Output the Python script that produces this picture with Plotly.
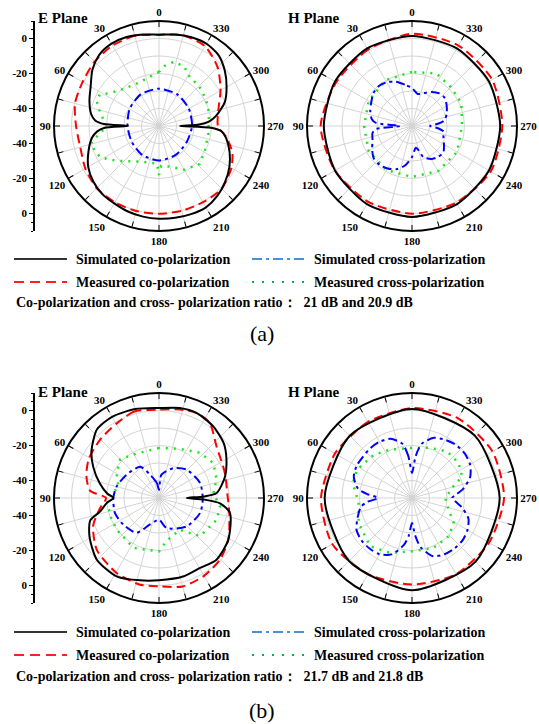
import plotly.graph_objects as go

W, H = 539, 724

# ---------------- data (dB vs angle in degrees) ----------------
# (a) E plane
ea_sim_co_th = [0, 10, 20, 30, 40, 50, 60, 70, 80, 85, 88, 90, 92, 95, 100, 110, 120, 130, 140, 150, 160, 170, 180,
                190, 200, 210, 220, 230, 240, 250, 260, 265, 268, 270, 272, 275, 280, 290, 300, 310, 320, 330, 340, 350]
ea_sim_co_db = [2.2, 3.1, 4.1, 4.3, 3.1, -0.3, -4.9, -7.7, -10.6, -13.4, -18.6, -32.3, -18.6, -14.6, -11.1, -7.1, -3.3,
                -0.9, 0.6, 1.1, 2.0, 2.6, 3.0, 3.3, 3.6, 3.7, 2.0, -0.6, -3.5, -7.1, -11.1, -14.0, -20.3, -38.0, -27.1,
                -21.4, -16.9, -10.0, -5.4, -0.9, 2.9, 4.3, 4.0, 3.1]
ea_meas_co_th = [0, 15, 30, 45, 60, 75, 90, 105, 120, 135, 150, 165, 180, 195, 210, 225, 240, 250, 260, 270, 285, 300,
                 315, 330, 345]
ea_meas_co_db = [2.2, 3.3, 3.1, 2.0, 0.4, -0.3, -2.6, -3.4, -1.4, 0.3, 0.4, 0.3, 0.1, 0.2, 0.3, 0.7, -2.2, -5.4, -10.6,
                 -16.3, -14.9, -9.4, -2.6, 2.6, 3.6]
ea_sim_x_th = [0, 30, 60, 90, 120, 150, 180, 210, 240, 270, 300, 330]
ea_sim_x_db = [-28.7, -29.1, -30.6, -32.0, -32.0, -30.9, -30.3, -30.9, -31.7, -31.1, -30.3, -29.1]
ea_meas_x_th = [0, 15, 30, 45, 55, 62, 68, 78, 90, 102, 105, 118, 130, 150, 165, 177, 180, 183, 195, 210, 227, 242,
                260, 285, 300, 315, 328, 337, 347, 355]
ea_meas_x_db = [-19.1, -22.0, -22.6, -20.3, -16.9, -11.7, -11.5, -15.7, -20.3, -11.7, -9.4, -11.9, -18.9, -26.6, -28.3,
                -28.5, -22.0, -27.1, -26.0, -21.1, -18.2, -20.3, -21.4, -20.4, -19.1, -17.7, -16.9, -13.1, -12.3, -15.7]

# (a) H plane
ha_sim_co_th = [0, 30, 60, 90, 120, 150, 180, 210, 240, 270, 300, 330]
ha_sim_co_db = [1.5, 1.2, 0.8, 0.4, 0.8, 1.5, 2.0, 1.5, 0.8, 0.4, 0.8, 1.2]
ha_meas_co_th = [0, 30, 60, 90, 120, 150, 180, 210, 240, 270, 300, 330]
ha_meas_co_db = [2.7, 0.3, 0.0, 2.2, 0.9, 0.0, 0.1, 0.6, 2.0, 1.6, 2.9, 3.1]
ha_sim_x_th = [0, 10, 20, 30, 40, 50, 60, 70, 80, 85, 90, 95, 100, 110, 120, 130, 140, 150, 160, 170, 180, 190, 195,
               200, 210, 220, 230, 240, 250, 260, 265, 270, 275, 280, 290, 300, 310, 320, 330, 340, 350]
ha_sim_x_db = [-28.3, -26.0, -23.1, -21.1, -20.3, -21.1, -23.1, -24.6, -26.6, -29.4, -43.1, -29.4, -27.1, -26.0, -23.7,
               -21.4, -21.1, -22.0, -23.7, -27.1, -32.3, -37.4, -35.7, -31.1, -28.3, -26.9, -26.6, -28.9, -30.9,
               -31.7, -35.1, -39.7, -35.1, -31.1, -28.9, -27.1, -25.4, -25.7, -27.5, -30.0, -31.4]
ha_meas_x_th = [0, 30, 60, 90, 120, 150, 180, 210, 240, 270, 295, 315, 335]
ha_meas_x_db = [-19.1, -19.7, -21.4, -22.6, -21.4, -20.9, -20.9, -20.3, -20.3, -21.4, -18.9, -18.6, -16.9]

# (b) E plane
eb_sim_co_th = [0, 15, 30, 42, 55, 65, 76, 85, 90, 95, 103, 108, 119, 135, 152, 167, 180, 197, 210, 223, 239, 258, 265,
                268, 270, 272, 275, 288, 300, 310, 323, 336, 347]
eb_sim_co_db = [1.4, 2.6, 3.6, 2.9, -2.9, -8.6, -15.1, -20.3, -23.9, -20.3, -15.4, -8.7, -4.6, 0.1, 0.9, -1.7, -3.0,
                -3.1, -3.7, -1.8, -3.8, -8.5, -15.0, -24.3, -34.2, -24.3, -16.9, -10.3, -5.5, -1.6, 1.4, 3.1, 2.8]
eb_meas_co_th = [0, 16, 29, 45, 61, 73, 84, 90, 100, 113, 130, 150, 167, 180, 195, 210, 225, 239, 258, 274, 291, 312,
                 326, 336, 347]
eb_meas_co_db = [0.5, 1.4, -0.9, -2.6, -4.1, -6.6, -10.4, -19.7, -15.7, -9.1, -3.7, -0.9, 0.7, 0.5, 2.3, 1.4, -0.5,
                 -3.8, -8.9, -10.9, -9.7, -5.8, 1.8, 3.1, 1.9]
eb_sim_x_th = [0, 8, 21, 31, 54, 75, 90, 109, 127, 147, 161, 180, 194, 224, 250, 268, 290, 316, 334, 354]
eb_sim_x_db = [-45.4, -41.4, -35.7, -29.2, -27.2, -24.9, -23.9, -23.4, -24.6, -26.3, -34.0, -37.6, -32.3, -27.4, -25.0,
               -25.0, -25.0, -27.4, -31.0, -36.6]
eb_meas_x_th = [0, 30, 45, 60, 75, 90, 110, 127, 153, 180, 190, 213, 227, 249, 262, 275, 288, 303, 318, 337]
eb_meas_x_db = [-21.4, -21.2, -18.7, -22.0, -26.0, -20.3, -20.3, -19.8, -18.0, -19.5, -25.1, -28.3, -18.0, -14.8,
                -14.8, -18.8, -15.4, -13.1, -15.2, -19.5]

# (b) H plane
hb_sim_co_th = [0, 45, 90, 135, 180, 225, 270, 315]
hb_sim_co_db = [0.9, 0.3, -0.1, 0.9, 2.7, 1.4, 0.1, 0.6]
hb_meas_co_th = [0, 30, 45, 60, 90, 120, 150, 180, 210, 240, 270, 300, 330]
hb_meas_co_db = [1.4, 0.3, -0.3, 0.9, 2.0, 2.6, 0.3, -0.5, 0.3, 0.9, 2.6, 3.1, 2.6]
hb_sim_x_th = [0, 5, 10, 20, 30, 40, 50, 60, 70, 80, 85, 90, 95, 100, 110, 120, 130, 140, 150, 160, 170, 175, 180, 185,
               190, 200, 210, 220, 230, 240, 250, 260, 265, 270, 275, 280, 290, 300, 310, 320, 330, 340, 350, 355]
hb_sim_x_db = [-35.7, -26.0, -18.6, -14.0, -12.9, -12.9, -13.4, -13.4, -14.6, -18.6, -24.3, -30.6, -24.3, -20.3, -16.9,
               -13.4, -12.3, -12.3, -12.9, -15.7, -22.6, -28.3, -35.7, -28.3, -21.4, -14.6, -12.9, -12.3, -12.3,
               -13.4, -15.7, -21.4, -24.9, -27.1, -24.3, -20.3, -14.6, -11.7, -10.6, -10.6, -11.7, -13.4, -18.6, -26.0]
hb_meas_x_th = [0, 24, 42, 63, 76, 95, 115, 139, 158, 180, 203, 224, 239, 252, 270, 286, 293, 307, 323, 340]
hb_meas_x_db = [-21.4, -19.7, -17.0, -14.6, -15.2, -19.4, -16.3, -13.5, -16.2, -19.5, -18.9, -19.7, -22.2, -28.0,
                -31.0, -25.3, -18.9, -16.7, -16.7, -19.5]

angle_ticks = list(range(0, 360, 15))
angle_text = [str(a) if a % 30 == 0 else "" for a in angle_ticks]
radial_labels = ["0", "-20", "-40", "-40", "-20", "0"]

legend_names = ["Simulated co-polarization", "Simulated cross-polarization",
                "Measured co-polarization", "Measured cross-polarization"]
ratio_texts = ["Co-polarization and cross- polarization ratio：  21 dB and 20.9 dB",
               "Co-polarization and cross- polarization ratio：  21.7 dB and 21.8 dB"]

# ---------------- styles ----------------
SERIF = "Liberation Serif"
C_BLACK, C_RED, C_BLUE, C_GREEN = "#000000", "#ff0000", "#0000ff", "#19e619"
D_RED, D_BLUE, D_GREEN = "9px,5px", "9px,4px,3px,4px", "2px,6px"


def px_x(x):
    return x / W


def px_y(y):
    return 1 - y / H


def closed(th, r):
    return list(th) + [th[0]], list(r) + [r[0]]


fig = go.Figure()

R = 105
centers = {"polar": (159, 126), "polar2": (412, 126), "polar3": (159, 498), "polar4": (412, 498)}

sets = {
    "polar": [(ea_sim_co_th, ea_sim_co_db), (ea_sim_x_th, ea_sim_x_db), (ea_meas_co_th, ea_meas_co_db), (ea_meas_x_th, ea_meas_x_db)],
    "polar2": [(ha_sim_co_th, ha_sim_co_db), (ha_sim_x_th, ha_sim_x_db), (ha_meas_co_th, ha_meas_co_db), (ha_meas_x_th, ha_meas_x_db)],
    "polar3": [(eb_sim_co_th, eb_sim_co_db), (eb_sim_x_th, eb_sim_x_db), (eb_meas_co_th, eb_meas_co_db), (eb_meas_x_th, eb_meas_x_db)],
    "polar4": [(hb_sim_co_th, hb_sim_co_db), (hb_sim_x_th, hb_sim_x_db), (hb_meas_co_th, hb_meas_co_db), (hb_meas_x_th, hb_meas_x_db)],
}

styles = [
    dict(color=C_BLACK, width=2, shape="spline", smoothing=0.7),
    dict(color=C_BLUE, width=2, dash=D_BLUE, shape="spline", smoothing=0.7),
    dict(color=C_RED, width=2, dash=D_RED, shape="spline", smoothing=0.7),
    dict(color=C_GREEN, width=2.5, dash=D_GREEN),
]
order = [3, 1, 2, 0]  # draw green, blue, red, black on top

for sp, series in sets.items():
    for i in order:
        th, r = closed(*series[i])
        fig.add_trace(go.Scatterpolar(theta=th, r=r, mode="lines", line=styles[i],
                                      name=legend_names[i], showlegend=False, subplot=sp,
                                      hoverinfo="skip"))

tickfont = dict(family=SERIF, size=11, color="black", weight="bold")
layout = {}
for sp, (cx, cy) in centers.items():
    layout[sp] = dict(
        domain=dict(x=[px_x(cx - R), px_x(cx + R)], y=[px_y(cy + R), px_y(cy - R)]),
        bgcolor="white",
        radialaxis=dict(range=[-50, 10], tickmode="array", tickvals=[-40, -30, -20, -10, 0],
                        showticklabels=False, ticks="", showline=False,
                        gridcolor="#d4d4d4", gridwidth=1),
        angularaxis=dict(rotation=90, direction="counterclockwise", tickmode="array",
                         tickvals=angle_ticks, ticktext=angle_text, tickfont=tickfont,
                         showline=True, linecolor="black", linewidth=2,
                         gridcolor="#d4d4d4", gridwidth=1,
                         ticks="inside", ticklen=5, tickcolor="black", tickwidth=1.2),
    )

# left radial scale axes for the E-plane plots
for k, (cx, cy) in [("", (159, 126)), ("2", (159, 498))]:
    fig.add_trace(go.Scatter(x=[], y=[], xaxis="x" + k, yaxis="y" + k, showlegend=False))
    layout["xaxis" + k] = dict(domain=[px_x(34), px_x(40)], visible=False, range=[0, 1],
                               anchor="y" + k)
    layout["yaxis" + k] = dict(domain=[px_y(cy + R), px_y(cy - R)], range=[-60, 60],
                               anchor="free", position=px_x(34),
                               showline=True, linecolor="black", linewidth=1.5,
                               tickmode="array", tickvals=[50, 30, 10, -10, -30, -50],
                               ticktext=radial_labels, ticks="outside", ticklen=4,
                               tickcolor="black", tickwidth=1.2,
                               minor=dict(dtick=5, tick0=0, ticks="outside", ticklen=2,
                                          tickcolor="black"),
                               showgrid=False, zeroline=False, tickfont=tickfont)

annotations = []
shapes = []
title_font = dict(family=SERIF, size=15, color="black", weight="bold")
for (x, y, t) in [(36, 18, "E Plane"), (286, 18, "H Plane"), (36, 392, "E Plane"), (286, 392, "H Plane")]:
    annotations.append(dict(x=px_x(x), y=px_y(y), xref="paper", yref="paper", text=t, showarrow=False,
                            xanchor="left", yanchor="middle", font=title_font))

leg_font = dict(family=SERIF, size=14, color="black", weight="bold")
leg_styles = [
    dict(color="#333333", width=2),
    dict(color="#4a8fd8", width=2, dash="10px,4px,3px,4px"),
    dict(color="#ff2020", width=2, dash="10px,6px"),
    dict(color="#00b050", width=2, dash="2px,8px"),
]
for rows, ratio_y, lab_y, lab in [((259, 282), 302, 333, "(a)"), ((632, 655), 676, 710, "(b)")]:
    for i in range(4):
        col, row = i % 2, i // 2
        y = rows[row]
        x0, x1, xt = (14, 67, 74) if col == 0 else (252, 308, 312)
        shapes.append(dict(type="line", xref="paper", yref="paper", x0=px_x(x0), x1=px_x(x1),
                           y0=px_y(y), y1=px_y(y), line=leg_styles[i]))
        annotations.append(dict(x=px_x(xt), y=px_y(y), xref="paper", yref="paper", text=legend_names[i],
                                showarrow=False, xanchor="left", yanchor="middle", font=leg_font))
    annotations.append(dict(x=px_x(14), y=px_y(ratio_y), xref="paper", yref="paper",
                            text=ratio_texts[0] if lab == "(a)" else ratio_texts[1],
                            showarrow=False, xanchor="left", yanchor="middle", font=leg_font))
    annotations.append(dict(x=px_x(262), y=px_y(lab_y), xref="paper", yref="paper", text=lab,
                            showarrow=False, xanchor="center", yanchor="middle",
                            font=dict(family=SERIF, size=22, color="black")))

fig.update_layout(width=W, height=H, margin=dict(l=0, r=0, t=0, b=0), paper_bgcolor="white",
                  plot_bgcolor="white", annotations=annotations, shapes=shapes, showlegend=False,
                  **layout)

fig.write_html("out.html")
